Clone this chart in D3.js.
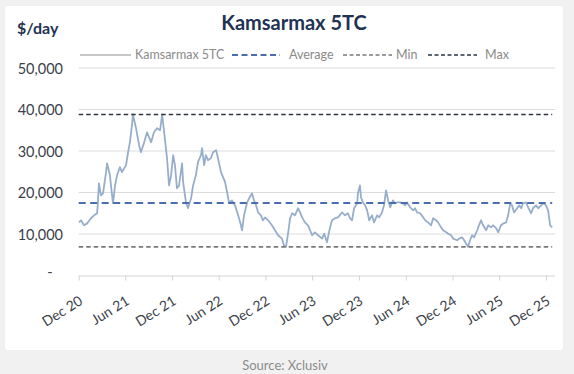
<!DOCTYPE html>
<html>
<head>
<meta charset="utf-8">
<script src="https://cdn.jsdelivr.net/npm/d3@7"></script>
<style>
  html, body { margin: 0; padding: 0; background: #f1f1f1; }
  svg { display: block; }
</style>
</head>
<body>
<svg id="chart" width="574" height="374"></svg>
<script>
// ---------------- DATA ----------------
const title = "Kamsarmax 5TC";
const unitLabel = "$/day";
const sourceText = "Source: Xclusiv";
const seriesName = "Kamsarmax 5TC";

const dates = [
"2020-12-02","2020-12-10","2020-12-22","2021-01-02","2021-01-18","2021-01-30","2021-02-11","2021-02-14","2021-02-18","2021-02-26",
"2021-03-06","2021-03-18","2021-03-22","2021-04-02","2021-04-06","2021-04-14","2021-04-22","2021-04-30","2021-05-11","2021-05-19",
"2021-06-04","2021-06-12","2021-06-19","2021-06-27","2021-07-01","2021-07-13","2021-07-25","2021-08-01","2021-08-13","2021-08-25",
"2021-09-10","2021-09-21","2021-10-03","2021-10-15","2021-10-23","2021-10-31","2021-11-11","2021-11-19","2021-11-27","2021-12-05",
"2021-12-12","2021-12-20","2021-12-28","2022-01-09","2022-01-13","2022-01-24","2022-02-01","2022-02-13","2022-02-21","2022-03-04",
"2022-03-12","2022-03-24","2022-03-28","2022-04-05","2022-04-12","2022-04-20","2022-05-02","2022-05-10","2022-05-22","2022-05-29",
"2022-06-10","2022-06-18","2022-06-26","2022-07-04","2022-07-11","2022-07-23","2022-08-04","2022-08-16","2022-08-27","2022-08-31",
"2022-09-08","2022-09-20","2022-09-28","2022-10-09","2022-10-17","2022-10-25","2022-11-02","2022-11-13","2022-11-21","2022-11-29",
"2022-12-11","2022-12-26","2023-01-07","2023-01-19","2023-02-03","2023-02-11","2023-02-19","2023-02-27","2023-03-07","2023-03-15",
"2023-03-26","2023-04-07","2023-04-15","2023-04-23","2023-05-04","2023-05-16","2023-06-01","2023-06-12","2023-06-24","2023-07-10",
"2023-07-18","2023-07-29","2023-08-10","2023-08-18","2023-08-30","2023-09-10","2023-09-26","2023-10-08","2023-10-19","2023-10-27",
"2023-11-04","2023-11-12","2023-11-24","2023-11-27","2023-12-05","2023-12-09","2023-12-17","2023-12-25","2024-01-02","2024-01-10",
"2024-01-21","2024-01-29","2024-02-10","2024-02-18","2024-02-29","2024-03-08","2024-03-16","2024-03-24","2024-04-01","2024-04-12",
"2024-04-20","2024-04-28","2024-05-10","2024-05-21","2024-05-29","2024-06-06","2024-06-18","2024-06-30","2024-07-07","2024-07-15",
"2024-07-27","2024-08-08","2024-08-16","2024-08-27","2024-09-08","2024-09-16","2024-09-28","2024-10-05","2024-10-17","2024-10-25",
"2024-11-06","2024-11-13","2024-11-25","2024-12-03","2024-12-19","2024-12-26","2025-01-07","2025-01-15","2025-01-27","2025-01-30",
"2025-02-07","2025-02-15","2025-02-23","2025-03-07","2025-03-14","2025-03-22","2025-03-30","2025-04-11","2025-04-19","2025-04-30",
"2025-05-08","2025-05-20","2025-05-28","2025-06-08","2025-06-16","2025-06-28","2025-07-06","2025-07-14","2025-07-21","2025-07-29",
"2025-08-10","2025-08-18","2025-08-26","2025-09-02","2025-09-14","2025-09-22","2025-10-04","2025-10-11","2025-10-23","2025-10-31",
"2025-11-12","2025-11-20","2025-12-01","2025-12-09","2025-12-17","2025-12-25"
];

const values = [
12800,13300,12100,12500,13800,14500,15000,17600,22200,19300,
19800,24900,27000,24200,21700,17400,21700,24200,26100,24900,
26600,29700,32100,36200,38800,35500,31400,29700,31900,34500,
32100,34500,35500,35000,38800,34500,28300,21700,24200,29000,
26600,21000,21700,27000,22500,17600,16200,18600,21700,24200,
27300,29000,30700,26600,29000,27800,28300,29700,30200,28300,
24900,23700,22500,20000,17600,18100,16900,14500,12100,10900,
14500,17600,18600,19800,18100,16900,15200,14500,13300,14000,
13300,12100,10900,9700,8900,7200,6900,10100,13800,15000,
14500,16200,15200,14000,12800,12100,9700,10400,9700,8900,
10100,8000,11600,13300,13800,14000,15200,14500,15000,13800,
13300,16200,17400,19800,21700,18800,17600,16900,15700,13300,
14500,12800,14500,14000,15200,16900,20500,18100,16400,18100,
17400,17600,17600,17400,16900,17600,16400,15700,16200,15200,
15000,14000,13300,12800,12100,13800,13300,12800,11600,10900,
10400,10100,9700,8900,8500,8900,9200,8500,7200,6900,
8500,9700,9200,10900,12100,13300,12100,10900,12100,11600,
12100,11400,10400,12100,12500,12800,14500,17400,16900,15200,
16200,16900,16200,17400,17600,16400,15000,16200,16900,16200,
16900,17400,16900,15700,12100,11600
];

const averageValue = 17500;
const minValue = 6900;
const maxValue = 38800;

const yTicks = [0, 10000, 20000, 30000, 40000, 50000];
const xTickDates = ["2020-12-01","2021-06-01","2021-12-01","2022-06-01","2022-12-01","2023-06-01","2023-12-01","2024-06-01","2024-12-01","2025-06-01","2025-12-01"];
const xTickLabels = ["Dec 20","Jun 21","Dec 21","Jun 22","Dec 22","Jun 23","Dec 23","Jun 24","Dec 24","Jun 25","Dec 25"];
const xDomain = ["2020-12-01","2026-01-05"];

const legendItems = ["Kamsarmax 5TC","Average","Min","Max"];

// ---------------- DRAW ----------------
const svg = d3.select("#chart");
const parse = d3.utcParse("%Y-%m-%d");

// panel
svg.append("rect").attr("x", 0).attr("y", 0).attr("width", 574).attr("height", 374).attr("fill", "#f1f1f1");
svg.append("rect").attr("x", 5).attr("y", 6).attr("width", 558).attr("height", 344).attr("rx", 3).attr("fill", "#ffffff");

const plotLeft = 78.7, plotRight = 555, plotTop = 68, plotBottom = 275.5;

const x = d3.scaleUtc().domain(xDomain.map(parse)).range([plotLeft, plotRight]);
const y = d3.scaleLinear().domain([0, 50000]).range([plotBottom, plotTop]);

const lineColor = "#97aecb";
const avgColor = "#4a6db0";
const minColor = "#7a7a7a";
const maxColor = "#2c3444";
const textDark = "#3b3f4a";
const navy = "#1f3352";

// gridlines
svg.append("g")
  .selectAll("line").data(yTicks.filter(d => d > 0)).join("line")
  .attr("x1", plotLeft).attr("x2", plotRight)
  .attr("y1", d => y(d)).attr("y2", d => y(d))
  .attr("stroke", "#dcdcdc").attr("stroke-width", 1);

// y axis labels
const yAxis = d3.axisLeft(y).tickValues(yTicks)
  .tickFormat(d => d === 0 ? "-" : d3.format(",")(d)).tickSize(0).tickPadding(0);
const yg = svg.append("g").attr("transform", `translate(63,0)`).call(yAxis);
yg.select(".domain").remove();
yg.selectAll("text")
  .attr("font-family", "Lato, 'Open Sans', sans-serif").attr("font-size", 14.5)
  .attr("fill", textDark).attr("dy", "0.35em");
yg.selectAll("text").filter(d => d === 0).attr("text-anchor", "middle").attr("x", -13).attr("dy", "0.1em");

// x axis
const xAxis = d3.axisBottom(x).tickValues(xTickDates.map(parse)).tickSize(5).tickFormat("");
const xg = svg.append("g").attr("transform", `translate(0,${plotBottom})`).call(xAxis);
xg.select(".domain").attr("stroke", "#d4d4d4").attr("d", `M${plotLeft},0.5H${plotRight}`);
xg.selectAll(".tick line").attr("stroke", "#d4d4d4");

svg.append("g").selectAll("text").data(xTickDates).join("text")
  .attr("transform", d => `translate(${x(parse(d)) + 5},${plotBottom + 28}) rotate(-32)`)
  .attr("text-anchor", "end")
  .attr("font-family", "Lato, 'Open Sans', sans-serif").attr("font-size", 14)
  .attr("fill", textDark)
  .text((d, i) => xTickLabels[i]);

// reference lines
function hline(v, color, dash, w) {
  svg.append("line")
    .attr("x1", plotLeft).attr("x2", x(parse(dates[dates.length - 1])))
    .attr("y1", y(v)).attr("y2", y(v))
    .attr("stroke", color).attr("stroke-width", w).attr("stroke-dasharray", dash);
}

// series line
const pts = dates.map((d, i) => ({ date: parse(d), value: values[i] }));
const line = d3.line().x(d => x(d.date)).y(d => y(d.value)).curve(d3.curveLinear);
svg.append("path").datum(pts)
  .attr("d", line).attr("fill", "none")
  .attr("stroke", lineColor).attr("stroke-width", 1.8).attr("stroke-linejoin", "round");

hline(averageValue, avgColor, "7,4.5", 2);
hline(minValue, minColor, "4.5,3", 1.6);
hline(maxValue, maxColor, "4.5,3", 1.6);

// title
svg.append("text").attr("x", 294).attr("y", 30).attr("text-anchor", "middle")
  .attr("font-family", "Lato, 'Open Sans', sans-serif").attr("font-weight", 700)
  .attr("font-size", 20).attr("fill", navy).text(title);

svg.append("text").attr("x", 17).attr("y", 34)
  .attr("font-family", "Lato, 'Open Sans', sans-serif").attr("font-weight", 700)
  .attr("font-size", 16).attr("fill", navy).text(unitLabel);

// legend
const legendY = 55;
const legend = [
  { name: legendItems[0], x1: 80, x2: 131, tx: 135, color: "#b5b5b5", dash: null, w: 1.3 },
  { name: legendItems[1], x1: 232, x2: 280, tx: 289, color: avgColor, dash: "6,3.5", w: 2 },
  { name: legendItems[2], x1: 343, x2: 392, tx: 396, color: minColor, dash: "4,2.5", w: 1.5 },
  { name: legendItems[3], x1: 428, x2: 477, tx: 485, color: maxColor, dash: "4,2.5", w: 1.5 }
];
const lg = svg.append("g");
legend.forEach(l => {
  lg.append("line").attr("x1", l.x1).attr("x2", l.x2).attr("y1", legendY).attr("y2", legendY)
    .attr("stroke", l.color).attr("stroke-width", l.w).attr("stroke-dasharray", l.dash);
  lg.append("text").attr("x", l.tx).attr("y", legendY).attr("dy", "0.35em")
    .attr("font-family", "Lato, 'Open Sans', sans-serif").attr("font-size", 12.5)
    .attr("fill", "#8a8a8a").text(l.name);
});

// source
svg.append("text").attr("x", 285).attr("y", 370).attr("text-anchor", "middle")
  .attr("font-family", "Lato, 'Open Sans', sans-serif").attr("font-size", 13)
  .attr("fill", "#8c8c8c").text(sourceText);
</script>
</body>
</html>
